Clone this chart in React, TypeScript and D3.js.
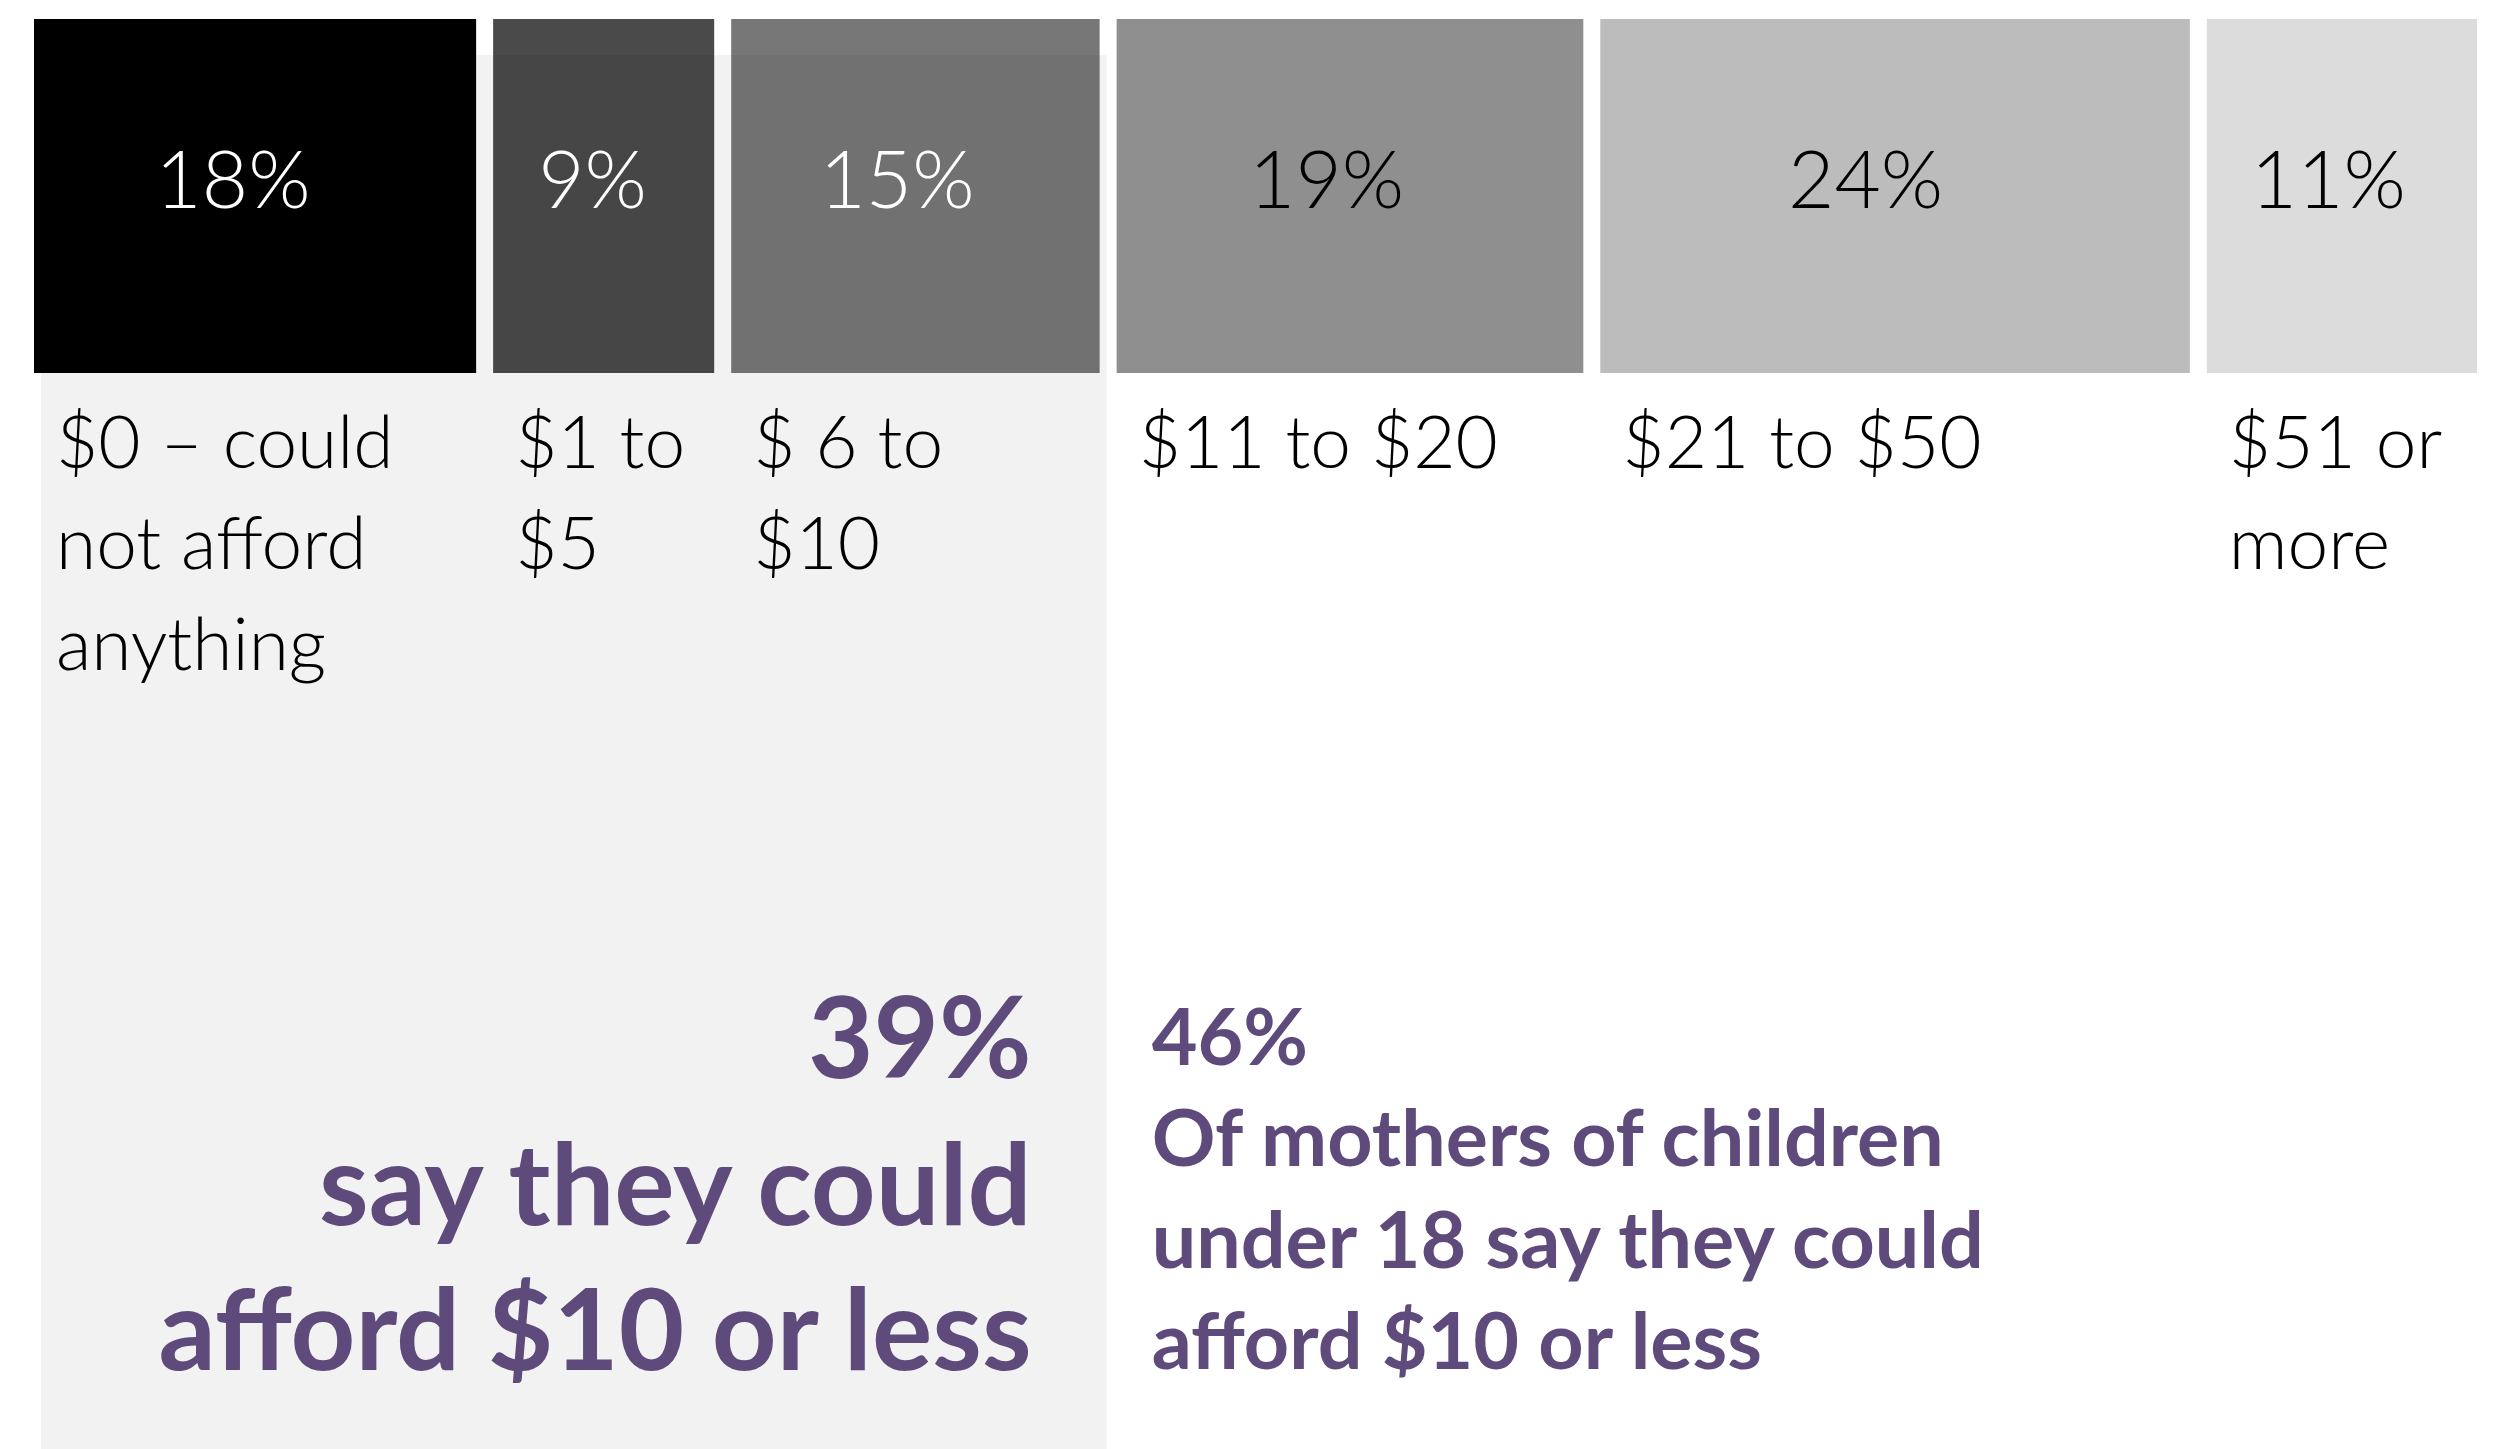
import React, { useEffect, useRef } from 'react'
import * as d3 from 'd3'

// share of respondents by amount they could afford
const shares = [18, 9, 15, 19, 24, 11]
const valueLabels = ['18%', '9%', '15%', '19%', '24%', '11%']
const categoryLines = [
	['$0 – could', 'not afford', 'anything'],
	['$1 to', '$5'],
	['$ 6 to', '$10'],
	['$11 to $20'],
	['$21 to $50'],
	['$51 or', 'more'],
]
const barColors = ['#000000', '#4a4a4a', '#777777', '#8f8f8f', '#bcbcbc', '#dcdcdc']
const valueColors = ['#ffffff', '#ffffff', '#ffffff', '#000000', '#000000', '#000000']
const groupNote = ['39%', 'say they could', 'afford $10 or less']
const mothersNote = ['46%', 'Of mothers of children', 'under 18 say they could', 'afford $10 or less']

const FONT = 'Lato, "Open Sans", sans-serif'
const PURPLE = '#5e4a7b'

export default function App() {
	const ref = useRef<SVGSVGElement>(null)

	useEffect(() => {
		const height = 1449
		const left = 34
		const right = 2477
		const gap = 17
		const barTop = 19
		const barBottom = 373

		const svg = d3.select(ref.current)
		svg.selectAll('*').remove()

		const total = d3.sum(shares)
		const xw = d3
			.scaleLinear()
			.domain([0, total])
			.range([0, right - left - gap * (shares.length - 1)])
		const starts = [0, ...Array.from(d3.cumsum(shares)).slice(0, -1)]

		const bars = shares.map((v, i) => ({
			v,
			i,
			x: left + xw(starts[i]) + i * gap,
			w: xw(v),
		}))

		// columns
		svg
			.append('g')
			.selectAll('rect')
			.data(bars)
			.enter()
			.append('rect')
			.attr('x', (d) => d.x)
			.attr('y', barTop)
			.attr('width', (d) => d.w)
			.attr('height', barBottom - barTop)
			.attr('fill', (d) => barColors[d.i])

		// shaded panel behind the "$10 or less" group
		const panelX0 = bars[0].x + 7
		const panelX1 = bars[2].x + bars[2].w + 7
		svg
			.append('rect')
			.attr('x', panelX0)
			.attr('y', 55)
			.attr('width', panelX1 - panelX0)
			.attr('height', height - 55)
			.attr('fill', '#f2f2f2')
			.style('mix-blend-mode', 'multiply')

		// value labels
		svg
			.append('g')
			.selectAll('text')
			.data(bars)
			.enter()
			.append('text')
			.attr('x', (d) => d.x + d.w * 0.45)
			.attr('y', 208)
			.attr('text-anchor', 'middle')
			.attr('font-family', FONT)
			.attr('font-weight', 300)
			.attr('font-size', 80)
			.attr('fill', (d) => valueColors[d.i])
			.text((d) => valueLabels[d.i])

		// category labels
		const cat = svg
			.append('g')
			.selectAll('text')
			.data(bars)
			.enter()
			.append('text')
			.attr('font-family', FONT)
			.attr('font-weight', 300)
			.attr('font-size', 73)
			.attr('fill', '#000')

		cat
			.selectAll('tspan')
			.data((d) => categoryLines[d.i].map((t) => ({ t, x: d.x + 22 })))
			.enter()
			.append('tspan')
			.attr('x', (d) => d.x)
			.attr('y', (d, j) => 468 + j * 101)
			.text((d) => d.t)

		// group note (left)
		svg
			.append('text')
			.attr('text-anchor', 'end')
			.attr('font-family', FONT)
			.attr('font-weight', 700)
			.attr('font-size', 113)
			.attr('fill', PURPLE)
			.selectAll('tspan')
			.data(groupNote)
			.enter()
			.append('tspan')
			.attr('x', panelX1 - 75)
			.attr('y', (d, j) => [1078, 1225, 1370][j])
			.text((d) => d)

		// mothers note (right)
		svg
			.append('text')
			.attr('font-family', FONT)
			.attr('font-weight', 700)
			.attr('font-size', 79)
			.attr('fill', PURPLE)
			.selectAll('tspan')
			.data(mothersNote)
			.enter()
			.append('tspan')
			.attr('x', bars[3].x + 35)
			.attr('y', (d, j) => 1065 + j * 101.3)
			.text((d) => d)
	}, [])

	return (
		<svg
			ref={ref}
			width={2504}
			height={1449}
			style={{ position: 'absolute', left: 0, top: 0, display: 'block', background: '#fff' }}
		/>
	)
}
